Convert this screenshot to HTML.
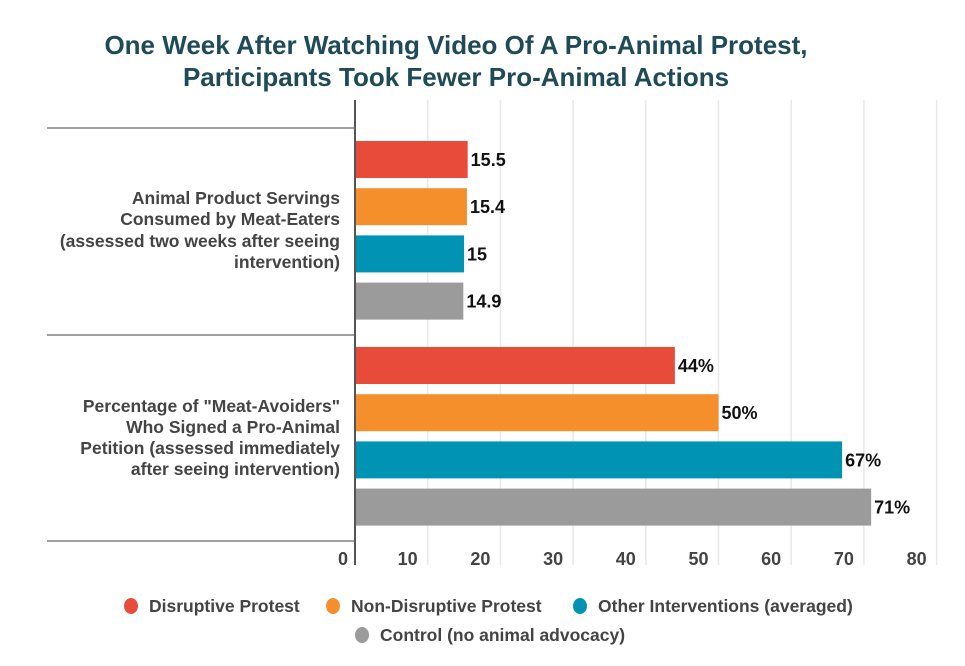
<!DOCTYPE html>
<html><head><meta charset="utf-8"><style>
body{margin:0;background:#fff;}
svg{display:block;font-family:"Liberation Sans",sans-serif;}
</style></head><body>
<svg id="chart" width="965" height="666" viewBox="0 0 965 666" xmlns="http://www.w3.org/2000/svg">
<g font-weight="bold" font-size="26" fill="#1f4b58" text-anchor="middle">
<text x="456" y="54">One Week After Watching Video Of A Pro-Animal Protest,</text>
<text x="456" y="86">Participants Took Fewer Pro-Animal Actions</text>
</g>
<g id="grid"></g>
<g id="bars"></g>
<g id="xticks"></g>
<line x1="355" y1="100" x2="355" y2="565" stroke="#555" stroke-width="2"/>
<g stroke="#666" stroke-width="1.2">
<line x1="47" y1="128" x2="355" y2="128"/><line x1="47" y1="335" x2="355" y2="335"/><line x1="47" y1="541" x2="355" y2="541"/>
</g>
<g font-weight="bold" font-size="17.5" fill="#444" text-anchor="end">
<text x="340" y="204">Animal Product Servings</text>
<text x="340" y="225">Consumed by Meat-Eaters</text>
<text x="340" y="247">(assessed two weeks after seeing</text>
<text x="340" y="268">intervention)</text>
</g>
<g font-weight="bold" font-size="17.5" fill="#444" text-anchor="end">
<text x="340" y="412">Percentage of "Meat-Avoiders"</text>
<text x="340" y="433">Who Signed a Pro-Animal</text>
<text x="340" y="454">Petition (assessed immediately</text>
<text x="340" y="475">after seeing intervention)</text>
</g>
<g id="legend" font-weight="bold" font-size="17.5" fill="#444"></g>
</svg>
<script>
const series = ["Disruptive Protest","Non-Disruptive Protest","Other Interventions (averaged)","Control (no animal advocacy)"];
const colors = ["#e84b3a","#f58f2c","#0093b3","#9b9b9b"];
const servings = [15.5, 15.4, 15, 14.9];
const servingLabels = ["15.5","15.4","15","14.9"];
const petition = [44, 50, 67, 71];
const petitionLabels = ["44%","50%","67%","71%"];
const ticks = [0,10,20,30,40,50,60,70,80];
const NS="http://www.w3.org/2000/svg";
function xs(v){return 355 + v*7.27;}
function mk(t,a,p){const e=document.createElementNS(NS,t);for(const k in a)e.setAttribute(k,a[k]);p.appendChild(e);return e;}
const grid=document.getElementById('grid'), xt=document.getElementById('xticks'), bars=document.getElementById('bars'), lg=document.getElementById('legend');
ticks.forEach(t=>{
  if(t>0){const l=mk('line',{x1:xs(t),x2:xs(t),y1:100,y2:565,stroke:'#e8e8e8','stroke-width':1.5},grid);
  
  }
  const tx=mk('text',{x:t===0?343:xs(t)-20,y:565,'font-size':18,'font-weight':'bold',fill:'#444','text-anchor':'middle'},xt);
  tx.textContent=t;
  
  
});
function group(vals,labels,y0){
  vals.forEach((v,i)=>{
    const y=y0+i*47.2;
    const r=mk('rect',{x:356,y:y,width:xs(v)-356,height:37,fill:colors[i]},bars);
    
    
    const t=mk('text',{x:xs(v)+3,y:y+25,'font-size':18,'font-weight':'bold',fill:'#111'},bars);
    t.textContent=labels[i];
    
    
  });
}
group(servings,servingLabels,141);
group(petition,petitionLabels,347);
const lpos=[[131,606],[333,606],[580,606],[362,635]];
series.forEach((s,i)=>{
  const c=mk('ellipse',{cx:lpos[i][0],cy:lpos[i][1],rx:7,ry:8,fill:colors[i]},lg);
  
  
  const t=mk('text',{x:lpos[i][0]+18,y:lpos[i][1]+6},lg);
  t.textContent=s;
  
  
});
</script>
</body></html>
